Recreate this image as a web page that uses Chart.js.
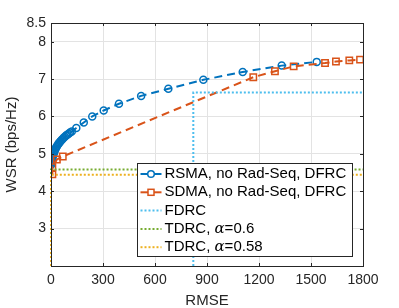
<!DOCTYPE html>
<html>
<head>
<meta charset="utf-8">
<script src="https://cdn.jsdelivr.net/npm/chart.js@4.4.1/dist/chart.umd.min.js"></script>
<style>
  html, body { margin: 0; padding: 0; background: #fff; }
  #wrap { width: 399px; height: 308px; position: relative; }
</style>
</head>
<body>
<div id="wrap"><canvas id="myChart"></canvas></div>
<script>
// RSMA / SDMA trade-off curves (RMSE vs WSR)
var rsmaRmse = [0, 1, 2, 3, 5, 7, 9, 11, 14, 17, 20, 23, 27, 31, 35, 40, 45, 50, 55, 61, 67, 73, 80, 87, 94, 102, 110, 120,
                146, 189, 238, 304, 392, 520, 677, 879, 1106, 1331, 1533];
var rsmaWsr  = [4.70, 4.74, 4.77, 4.80, 4.84, 4.88, 4.92, 4.95, 4.99, 5.03, 5.07, 5.10, 5.14, 5.18, 5.21, 5.25, 5.28, 5.31, 5.34,
                5.37, 5.40, 5.43, 5.46, 5.49, 5.51, 5.54, 5.57, 5.60,
                5.69, 5.84, 6.00, 6.16, 6.34, 6.55, 6.74, 6.98, 7.19, 7.36, 7.46];
var sdmaRmse = [8, 8, 34, 68, 1167, 1292, 1400, 1581, 1644, 1721, 1783];
var sdmaWsr  = [4.45, 4.64, 4.85, 4.93, 7.05, 7.21, 7.34, 7.43, 7.47, 7.50, 7.52];

// benchmark operating points
var fdrcRmse = 821, fdrcWsr = 6.64;
var tdrcLabels = ["TDRC, \u03b1=0.6", "TDRC, \u03b1=0.58"];
var tdrcWsr = [4.58, 4.44];

var xTicks = [0, 300, 600, 900, 1200, 1500, 1800];
var yTicks = [3, 4, 5, 6, 7, 8, 8.5];
var yMin = 2, yMax = 8.5;

var legendLabels = ["RSMA, no Rad-Seq, DFRC", "SDMA, no Rad-Seq, DFRC", "FDRC", tdrcLabels[0], tdrcLabels[1]];
var colors = ["#0072BD", "#D95319", "#4DBEEE", "#77AC30", "#EDB120"];

var FONT = "'Liberation Sans', Arial, sans-serif";
var xMax = xTicks[xTicks.length - 1];

function pts(xs, ys) {
  return xs.map(function (x, i) { return {x: x, y: ys[i]}; });
}

var boxPlugin = {
  id: 'box',
  afterDatasetsDraw: function (chart) {
    var ctx = chart.ctx, a = chart.chartArea;
    var xs = chart.scales.x, ys = chart.scales.y;
    ctx.save();
    ctx.strokeStyle = '#262626';
    ctx.lineWidth = 1;
    ctx.strokeRect(Math.round(a.left) + 0.5, Math.round(a.top) + 0.5,
                   Math.round(a.right - a.left), Math.round(a.bottom - a.top));
    ctx.beginPath();
    xTicks.forEach(function (t) {
      var px = Math.round(xs.getPixelForValue(t)) + 0.5;
      ctx.moveTo(px, a.bottom); ctx.lineTo(px, a.bottom - 3);
      ctx.moveTo(px, a.top); ctx.lineTo(px, a.top + 3);
    });
    yTicks.forEach(function (t) {
      var py = Math.round(ys.getPixelForValue(t)) + 0.5;
      ctx.moveTo(a.left, py); ctx.lineTo(a.left + 3, py);
      ctx.moveTo(a.right, py); ctx.lineTo(a.right - 3, py);
    });
    ctx.stroke();

    // legend
    var lx = 137.5, ly = 163.5, lw = 215, lh = 93, rowH = 18.3;
    ctx.fillStyle = '#fff';
    ctx.fillRect(lx, ly, lw, lh);
    ctx.strokeStyle = '#262626';
    ctx.strokeRect(lx, ly, lw, lh);
    chart.data.datasets.forEach(function (ds, i) {
      var y = ly + 10.5 + i * rowH;
      ctx.save();
      ctx.strokeStyle = ds.borderColor;
      ctx.lineWidth = ds.borderWidth;
      ctx.setLineDash(i < 2 ? [] : ds.borderDash);
      ctx.beginPath();
      ctx.moveTo(lx + 3, y); ctx.lineTo(lx + 24, y);
      ctx.stroke();
      ctx.setLineDash([]);
      if (i === 0) {
        ctx.lineWidth = 1.5;
        ctx.beginPath(); ctx.arc(lx + 13.5, y, 3.3, 0, Math.PI * 2);
        ctx.fillStyle = '#fff'; ctx.fill(); ctx.stroke();
      } else if (i === 1) {
        ctx.lineWidth = 1.5;
        ctx.fillStyle = '#fff';
        ctx.fillRect(lx + 10.5, y - 3, 6, 6);
        ctx.strokeRect(lx + 10.5, y - 3, 6, 6);
      }
      ctx.restore();
      ctx.fillStyle = '#000';
      ctx.textBaseline = 'middle';
      var label = legendLabels[i];
      var tx = lx + 27;
      var k = label.indexOf('\u03b1');
      if (k < 0) {
        ctx.font = '15px ' + FONT;
        ctx.fillText(label, tx, y);
      } else {
        var pre = label.slice(0, k), post = label.slice(k + 1);
        ctx.font = '15px ' + FONT;
        ctx.fillText(pre, tx, y);
        tx += ctx.measureText(pre).width;
        ctx.font = 'italic 15px "DejaVu Serif", "Liberation Serif", serif';
        ctx.fillText('\u03b1', tx, y);
        tx += ctx.measureText('\u03b1').width;
        ctx.font = '15px ' + FONT;
        ctx.fillText(post, tx, y);
      }
    });
    ctx.restore();
  }
};

new Chart(document.getElementById("myChart"), {
  type: 'scatter',
  data: {
    datasets: [
      {
        label: legendLabels[0],
        data: pts(rsmaRmse, rsmaWsr),
        showLine: true,
        borderColor: colors[0], borderWidth: 2, borderDash: [8, 5],
        pointStyle: 'circle', pointRadius: 3.5, pointBorderWidth: 1.5,
        pointBackgroundColor: 'rgba(255,255,255,0)', pointBorderColor: colors[0],
        order: 5
      },
      {
        label: legendLabels[1],
        data: pts(sdmaRmse, sdmaWsr),
        showLine: true,
        borderColor: colors[1], borderWidth: 2, borderDash: [8, 5],
        pointStyle: 'rect', pointRadius: 4.5, pointBorderWidth: 1.5,
        pointBackgroundColor: 'rgba(255,255,255,0)', pointBorderColor: colors[1],
        order: 4
      },
      {
        label: legendLabels[2],
        data: [{x: fdrcRmse, y: yMin}, {x: fdrcRmse, y: fdrcWsr}, {x: xMax, y: fdrcWsr}],
        showLine: true, pointRadius: 0,
        borderColor: colors[2], borderWidth: 2, borderDash: [2, 2],
        clip: 4, order: 3
      },
      {
        label: legendLabels[3],
        data: [{x: 0, y: yMin}, {x: 0, y: tdrcWsr[0]}, {x: xMax, y: tdrcWsr[0]}],
        showLine: true, pointRadius: 0,
        borderColor: colors[3], borderWidth: 2, borderDash: [2, 2],
        clip: 4, order: 2
      },
      {
        label: legendLabels[4],
        data: [{x: 0, y: yMin}, {x: 0, y: tdrcWsr[1]}, {x: xMax, y: tdrcWsr[1]}],
        showLine: true, pointRadius: 0,
        borderColor: colors[4], borderWidth: 2, borderDash: [2, 2],
        clip: 4, order: 1
      }
    ]
  },
  options: {
    responsive: true,
    maintainAspectRatio: false,
    animation: false,
    layout: { padding: { left: 0, right: 36, top: 23, bottom: 0 } },
    plugins: { legend: { display: false }, tooltip: { enabled: false } },
    scales: {
      x: {
        type: 'linear', min: 0, max: xMax,
        afterBuildTicks: function (s) { s.ticks = xTicks.map(function (v) { return {value: v}; }); },
        afterFit: function (s) { s.height = 42; },
        grid: { color: '#e3e3e3', drawTicks: false },
        border: { display: false },
        ticks: { color: '#262626', padding: 6, maxRotation: 0, font: { family: FONT, size: 14 },
                 callback: function (v) { return String(v); } },
        title: { display: true, text: 'RMSE', color: '#262626', padding: 0,
                 font: { family: FONT, size: 15, lineHeight: 1 } }
      },
      y: {
        type: 'linear', min: yMin, max: yMax,
        afterBuildTicks: function (s) { s.ticks = yTicks.map(function (v) { return {value: v}; }); },
        afterFit: function (s) { s.width = 51; },
        grid: { color: '#e3e3e3', drawTicks: false },
        border: { display: false },
        ticks: { color: '#262626', padding: 5, font: { family: FONT, size: 14 },
                 callback: function (v) { return String(v); } },
        title: { display: true, text: 'WSR (bps/Hz)', color: '#262626', padding: { top: 3, bottom: 0 },
                 font: { family: FONT, size: 15, lineHeight: 1.2 } }
      }
    }
  },
  plugins: [boxPlugin]
});
</script>
</body>
</html>
